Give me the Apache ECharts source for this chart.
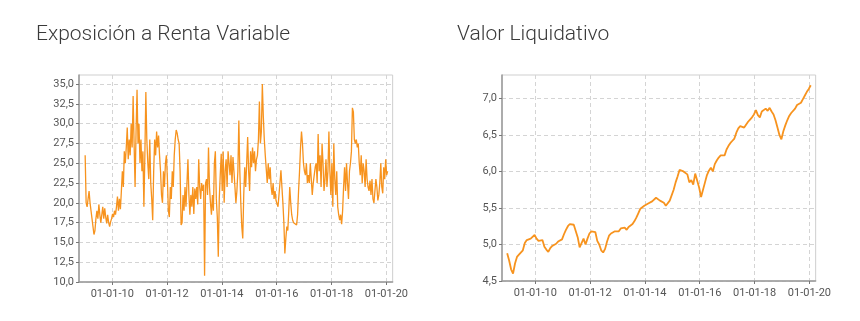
<!DOCTYPE html>
<html><head><meta charset="utf-8">
<script src="https://cdn.jsdelivr.net/npm/echarts@6/dist/echarts.min.js"></script>
<style>html,body{margin:0;padding:0;background:#fff;width:860px;height:321px;position:relative;overflow:hidden}
.c{position:absolute;top:0;width:412px;height:321px;overflow:hidden}</style>
</head><body><div id="c1" class="c" style="left:0;width:411px"></div><div id="c2" class="c" style="left:422px"></div>
<script>
// ---------- data ----------
const titles = ['Exposición a Renta Variable', 'Valor Liquidativo'];
const tickDates = ['2010-01-01','2012-01-01','2014-01-01','2016-01-01','2018-01-01','2020-01-01'];
const exposureTicks = [10,12.5,15,17.5,20,22.5,25,27.5,30,32.5,35];
const navTicks = [4.5,5,5.5,6,6.5,7];
// exposure (%) sampled every ~13 days from 2009-01-05
const exposureStart = '2009-01-05';
const exposureStepDays = 13.04;
const exposureValues = [
 26,20,19.5,20.5,21.5,20,19,18,17,16, 16.5,18,19,18,19.8,18.5,17.5,18.5,19.5,18,
 19.3,18.2,17.4,18.5,17.5,17,17.6,18,18.6,18.2, 19,18.5,19.5,20.8,19,20.5,19.2,21.5,24,22,
 26.5,25,27,29.5,25.5,28,26,30,27,33.5, 27.5,22,29,34.3,27.5,30,25,28,24,26.5,
 19.5,26,34,28,25,23,28,22.5,20.5,17.8, 24,28,26,29,27,
 28.5,26,24,21,20,24,22,25,26,23, 19,18.2,22,20.5,24,22,26,28,29.2,28.8,
 28,27.5,24,17.2,17.5,21,19,22,19.5,22.5, 25.5,21,18.5,21,19.5,22,18.6,21.8,20.5,22,
 19.8,25.5,22,20.5,22.5,21.5,22.3,10.8,22.5,23, 21,27,22,20,18.5,21,19,25,26.5,20.5,
 18.2,13.2,20.5,23.5,26.2,21.5,26.5,20,24,25.5, 22,26.5,25,23.5,26,22.5,25.8,24,
 22,20,21.5,24,30.4,24,20,17,15.5,21, 24.5,22,25,28.3,24,21.5,26.5,24.5,27,25,
 26.5,24,25.5,26,28,32.8,27.5,29,35,30.9, 28,26,25.8,22.5,25,23,24.5,22,21,22.5,
 20.5,21.5,20.3,19.9,19.5,21,22.5,24.1,22,20, 17.5,13.6,15.5,17,16.5,19,22,20,18.5,17.8,
 17.5,17.3,17.5,17.2,18.5,21.5,24,27,29,27.5, 25,24,23.5,25,22.5,23.5,22.5,25,
 23,21,22.5,23.5,24.5,25,22.5,28.7,24,26, 22,27.5,25,21.5,23,25.5,22,24,29,24,
 21,25,19.5,27.5,23,21,24,19.5,18.5,17.8, 18.5,17.3,19,22,24.5,21.5,25,22.5,20.5,24,
 25,26.5,32,31.5,28,27.5,28,27,27.5,25, 23.5,26,22.5,25,24,22,25.5,23,22,21.5,
 22.8,21,23,20.5,20,21.5,23,22,20.3,21, 22.5,25,22,21.2,24.5,23,25.5,23.5,24
];
// net asset value sampled every ~26 days from 2008-12-23
const navStart = '2008-12-23';
const navStepDays = 26.09;
const navValues = [
 4.88,4.78,4.66,4.6,4.74,4.83,4.86,4.85,4.92,5.02, 5.06,5.07,5.08,5.1,5.13,5.08,5.05,5.07,5.06,4.97,
 4.93,4.9,4.95,4.98,4.98,5.01,5.04,5.03,5.07,5.14, 5.2,5.25,5.28,5.26,5.27,5.25,5.1,4.96,4.97,5.08,
 5.0,5.08,5.15,5.18,5.2,5.17,5.05,5.0,4.92,4.89, 4.94,5.04,5.12,5.15,5.17,5.18,5.2,5.18,5.22,5.2,
 5.23,5.2,5.24,5.23,5.28,5.32,5.37,5.43,5.49,5.5, 5.53,5.54,5.56,5.57,5.59,5.61,5.64,5.66,5.6,
 5.58,5.57,5.53,5.54,5.6,5.62,5.75,5.85,5.93,6.02, 6.04,6.0,5.98,5.96,5.85,5.88,5.82,5.97,5.95,5.78,
 5.65,5.64,5.85,5.95,6.01,6.05,6.0,6.1,6.15,6.19, 6.22,6.2,6.22,6.3,6.35,6.39,6.42,6.45,6.53,6.59,
 6.62,6.6,6.6,6.61,6.68,6.71,6.74,6.78,6.84,6.77, 6.74,6.82,6.8,6.86,6.83,6.87,6.82,6.78,6.7,6.6,
 6.5,6.44,6.55,6.63,6.7,6.76,6.8,6.81,6.86,6.91, 6.9,6.94,6.99,7.04,7.09,7.13,7.18
];

// ---------- build ----------
const DAY = 86400000;
const ts = s => Date.parse(s + 'T00:00:00Z');
function series(start, step, vals){ const t0 = ts(start); return vals.map((v,i)=>[t0 + i*step*DAY, v]); }
const tickTs = tickDates.map(ts);
const X_MIN = ts('2008-10-15'), X_MAX = ts('2020-03-24');
const pad = n => String(n).padStart(2,'0');
const fmtDate = v => { const d = new Date(v); return pad(d.getUTCDate())+'-'+pad(d.getUTCMonth()+1)+'-'+pad(d.getUTCFullYear()%100); };
const fmtNum = v => v.toFixed(1).replace('.', ',');
const LABEL = {color:'#555', fontSize:11, fontFamily:'Roboto'};
const SPLIT = {show:true, lineStyle:{type:[4,3], color:'#d4d4d4', width:1}};
const AXISLINE = {show:true, onZero:false, lineStyle:{color:'#999', width:1.5}};

function makeChart(el, title, titleLeft, gridLeft, gridWidth, gridHeight, yMin, yMax, yTicks, data, lw){
  const chart = echarts.init(document.getElementById(el), null, {renderer:'canvas'});
  chart.setOption({
    animation:false,
    backgroundColor:'#fff',
    title:{text:title, left:titleLeft, top:19, textStyle:{fontFamily:'Roboto', fontWeight:300, fontSize:21, color:'#3a3a3a'}},
    grid:{left:gridLeft, top:75, width:gridWidth, height:gridHeight, show:true, borderColor:'#cfcfcf', borderWidth:1},
    xAxis:{type:'value', min:X_MIN, max:X_MAX,
      axisLine:AXISLINE,
      axisTick:{show:true, customValues:tickTs, length:3, lineStyle:{color:'#777'}},
      axisLabel:Object.assign({customValues:tickTs, formatter:fmtDate, margin:7}, LABEL),
      splitLine:SPLIT},
    yAxis:{type:'value', min:yMin, max:yMax,
      axisLine:AXISLINE,
      axisTick:{show:true, customValues:yTicks, length:3, lineStyle:{color:'#777'}},
      axisLabel:Object.assign({customValues:yTicks, formatter:fmtNum, margin:5}, LABEL),
      splitLine:SPLIT},
    series:[{type:'line', data, showSymbol:false, lineStyle:{color:'#f7931e', width:lw}}]
  });
}
makeChart('c1', titles[0], 31, 79, 320, 207, 10, 36.15, exposureTicks, series(exposureStart, exposureStepDays, exposureValues), 1.3);
makeChart('c2', titles[1], 30, 80, 321, 206, 4.5, 7.32, navTicks, series(navStart, navStepDays, navValues), 1.8);
</script></body></html>
